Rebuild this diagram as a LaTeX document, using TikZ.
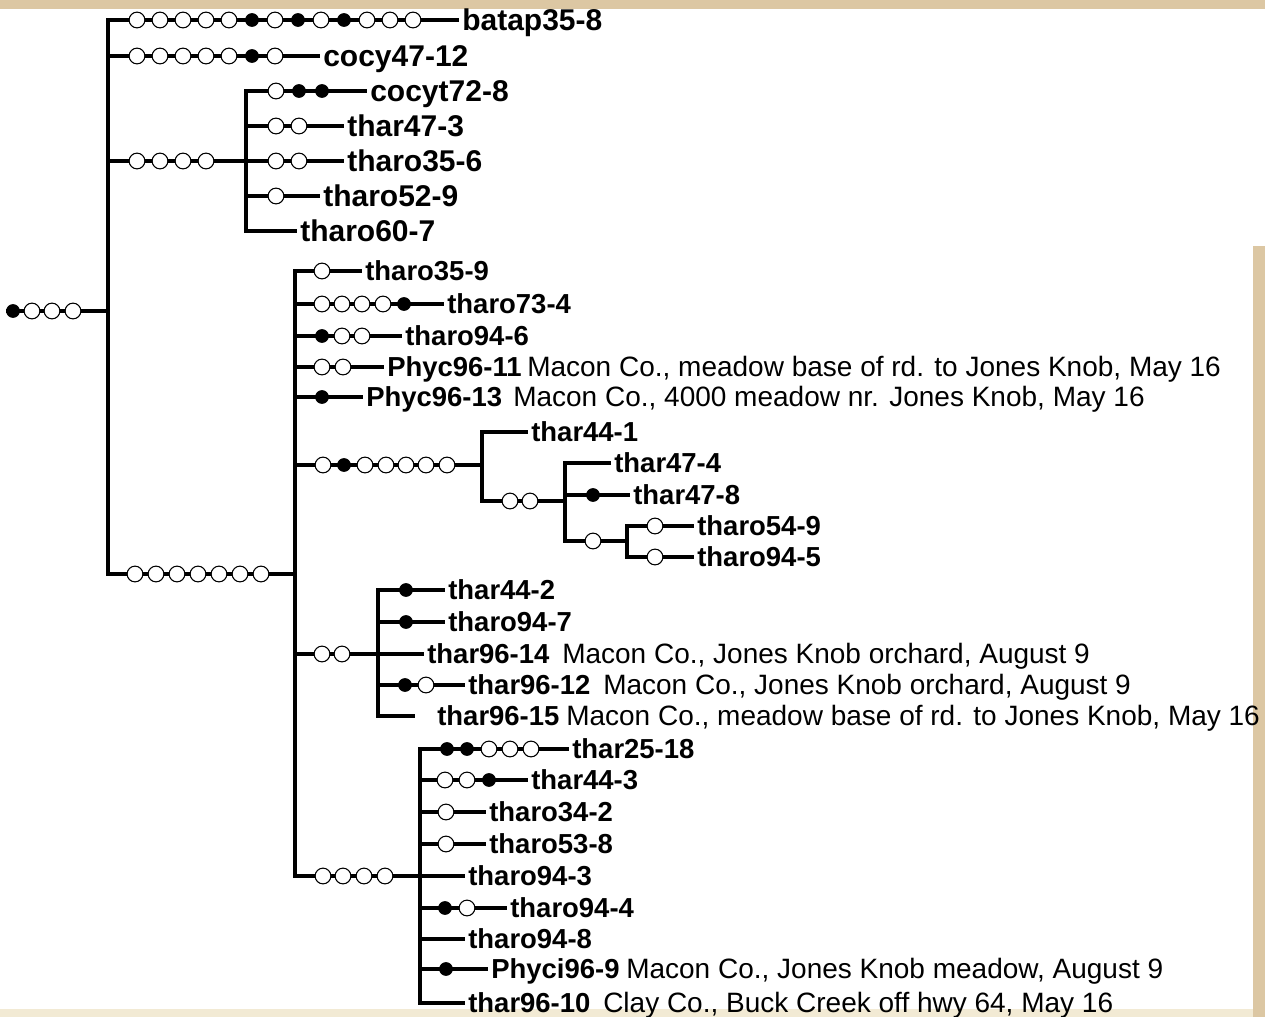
\documentclass[tikz,border=0pt]{standalone}
\usepackage{fontspec}
\setmainfont{Liberation Sans}
\definecolor{beige}{RGB}{220,199,163}
\definecolor{paleb}{RGB}{242,234,212}
\newcommand\mk[3]{\foreach \mx/\mt [count=\mi] in {#3} {\node[mk\mt] (#1m\mi) at (\mx,#2) {};}}
\begin{document}
\begin{tikzpicture}[x=0.75pt,y=-0.75pt,
  br/.style={line width=2.3pt, line cap=rect},
  mko/.style={circle, draw, fill=white, line width=0.8pt, inner sep=0pt, minimum size=11.8pt},
  mkf/.style={circle, fill=black, inner sep=0pt, minimum size=10.3pt},
  labT/.style={anchor=west, xshift=-1.125pt, inner ysep=0pt, inner xsep=3.4pt, text height=16.1pt, text depth=0pt, font=\fontsize{22.5}{24}\selectfont\bfseries},
  labL/.style={anchor=west, xshift=-1.125pt, inner ysep=0pt, inner xsep=3.4pt, text height=14.75pt, text depth=0pt, font=\fontsize{20.6}{22}\selectfont\bfseries},
  desc/.style={anchor=base west, inner sep=0pt, font=\fontsize{21}{23}\selectfont}]
\useasboundingbox (0,0) rectangle (1265,1017);
\fill[beige] (0,0) rectangle (1265,1017);
\fill[white] (0,9) rectangle (1253,1009);
\fill[white] (1253,9) rectangle (1265,246);
\fill[paleb] (0,1009) rectangle (1253,1017);

% ---------- coordinates ----------
\coordinate (R0) at (8,311);
\coordinate (R) at (108,311);
\coordinate (V1t) at (108,20);
\coordinate (V1b) at (108,574);
\coordinate (V2t) at (246,91);
\coordinate (V2b) at (246,231);
\coordinate (V2j) at (246,161);
\coordinate (V3t) at (295,271);
\coordinate (V3b) at (295,876);
\coordinate (V3j) at (295,574);
\coordinate (V4t) at (482,432);
\coordinate (V4b) at (482,501);
\coordinate (V4j) at (482,465);
\coordinate (V5t) at (565,463);
\coordinate (V5b) at (565,541);
\coordinate (V5j) at (565,501);
\coordinate (V6t) at (627,526);
\coordinate (V6b) at (627,557);
\coordinate (V6j) at (627,541);
\coordinate (V7t) at (378,590);
\coordinate (V7b) at (378,716);
\coordinate (V7j) at (378,654);
\coordinate (V8t) at (420,749);
\coordinate (V8b) at (420,1003);
\coordinate (V8j) at (420,876);
\coordinate (E15) at (413,716);

% ---------- labels: top group ----------
\node[labT] (Lbatap) at (459,20) {batap35-8};
\node[labT] (Lcocy) at (320,56) {cocy47-12};
\node[labT] (Lcocyt) at (367,91) {cocyt72-8};
\node[labT] (Lt473) at (344,126) {thar47-3};
\node[labT] (Lto356) at (344,161) {tharo35-6};
\node[labT] (Lto529) at (320,196) {tharo52-9};
\node[labT] (Lto607) at (297,231) {tharo60-7};

% ---------- labels: lower group ----------
\node[labL] (Lto359) at (362,271) {tharo35-9};
\node[labL] (Lto734) at (444,304) {tharo73-4};
\node[labL] (Lto946) at (402,336) {tharo94-6};
\node[labL] (Lp11) at (384,367) {Phyc96-11};
\node[labL] (Lp13) at (363,397) {Phyc96-13};
\node[labL] (Lt441) at (528,432) {thar44-1};
\node[labL] (Lt474) at (611,463) {thar47-4};
\node[labL] (Lt478) at (630,495) {thar47-8};
\node[labL] (Lto549) at (694,526) {tharo54-9};
\node[labL] (Lto945) at (694,557) {tharo94-5};
\node[labL] (Lt442) at (445,590) {thar44-2};
\node[labL] (Lto947) at (445,622) {tharo94-7};
\node[labL] (Lt9614) at (424,654) {thar96-14};
\node[labL] (Lt9612) at (465,685) {thar96-12};
\node[labL] (Lt9615) at (434,716) {thar96-15};
\node[labL] (Lt2518) at (569,749) {thar25-18};
\node[labL] (Lt443) at (528,780) {thar44-3};
\node[labL] (Lto342) at (486,812) {tharo34-2};
\node[labL] (Lto538) at (486,844) {tharo53-8};
\node[labL] (Lto943) at (465,876) {tharo94-3};
\node[labL] (Lto944) at (507,908) {tharo94-4};
\node[labL] (Lto948) at (465,939) {tharo94-8};
\node[labL] (Lpi9) at (488,969) {Phyci96-9};
\node[labL] (Lt9610) at (465,1003) {thar96-10};

% ---------- descriptions ----------
\node[desc] (Dp11) at (Lp11.base -| 527,0) {Macon Co., meadow base of rd. to Jones Knob, May 16};
\node[desc] (Dp13) at (Lp13.base -| 513,0) {Macon Co., 4000 meadow nr. Jones Knob, May 16};
\node[desc] (D9614) at (Lt9614.base -| 562,0) {Macon Co., Jones Knob orchard, August 9};
\node[desc] (D9612) at (Lt9612.base -| 603,0) {Macon Co., Jones Knob orchard, August 9};
\node[desc] (D9615) at (Lt9615.base -| 566,0) {Macon Co., meadow base of rd. to Jones Knob, May 16};
\node[desc] (Dpi9) at (Lpi9.base -| 626,0) {Macon Co., Jones Knob meadow, August 9};
\node[desc] (D9610) at (Lt9610.base -| 603,0) {Clay Co., Buck Creek off hwy 64, May 16};

% ---------- branches ----------
\draw[br] (R0) -- (R);
\draw[br] (V1t) -- (V1b);
\draw[br] (V1t) -- (Lbatap);
\draw[br] (V1t |- Lcocy) -- (Lcocy);
\draw[br] (V1t |- V2j) -- (V2j);
\draw[br] (V2t) -- (V2b);
\draw[br] (V2t) -- (Lcocyt);
\draw[br] (V2t |- Lt473) -- (Lt473);
\draw[br] (V2j) -- (Lto356);
\draw[br] (V2t |- Lto529) -- (Lto529);
\draw[br] (V2b) -- (Lto607);

\draw[br] (V1b) -- (V3j);
\draw[br] (V3t) -- (V3b);
\draw[br] (V3t) -- (Lto359);
\draw[br] (V3t |- Lto734) -- (Lto734);
\draw[br] (V3t |- Lto946) -- (Lto946);
\draw[br] (V3t |- Lp11) -- (Lp11);
\draw[br] (V3t |- Lp13) -- (Lp13);
\draw[br] (V3t |- V4j) -- (V4j);
\draw[br] (V4t) -- (V4b);
\draw[br] (V4t) -- (Lt441);
\draw[br] (V4b) -- (V5j);
\draw[br] (V5t) -- (V5b);
\draw[br] (V5t) -- (Lt474);
\draw[br] (V5t |- Lt478) -- (Lt478);
\draw[br] (V5b) -- (V6j);
\draw[br] (V6t) -- (V6b);
\draw[br] (V6t) -- (Lto549);
\draw[br] (V6b) -- (Lto945);

\draw[br] (V3t |- V7j) -- (V7j);
\draw[br] (V7t) -- (V7b);
\draw[br] (V7t) -- (Lt442);
\draw[br] (V7t |- Lto947) -- (Lto947);
\draw[br] (V7j) -- (Lt9614);
\draw[br] (V7t |- Lt9612) -- (Lt9612);
\draw[br] (V7b) -- (E15);

\draw[br] (V3b) -- (V8j);
\draw[br] (V8t) -- (V8b);
\draw[br] (V8t) -- (Lt2518);
\draw[br] (V8t |- Lt443) -- (Lt443);
\draw[br] (V8t |- Lto342) -- (Lto342);
\draw[br] (V8t |- Lto538) -- (Lto538);
\draw[br] (V8j) -- (Lto943);
\draw[br] (V8t |- Lto944) -- (Lto944);
\draw[br] (V8t |- Lto948) -- (Lto948);
\draw[br] (V8t |- Lpi9) -- (Lpi9);
\draw[br] (V8b) -- (Lt9610);

% ---------- character-state markers ----------
\mk{root}{311}{13/f,32/o,52/o,73/o}
\mk{a}{20}{137/o,160/o,183/o,206/o,229/o,252/f,275/o,298/f,321/o,344/f,367/o,390/o,413/o}
\mk{b}{56}{137/o,160/o,183/o,206/o,229/o,252/f,275/o}
\mk{c}{161}{137/o,160/o,183/o,206/o}
\mk{d}{91}{276/o,299/f,322/f}
\mk{e}{126}{276/o,299/o}
\mk{f}{161}{276/o,299/o}
\mk{g}{196}{276/o}
\mk{h}{574}{135/o,156/o,177/o,198/o,219/o,240/o,261/o}
\mk{i}{271}{322/o}
\mk{j}{304}{322/o,342/o,362/o,383/o,404/f}
\mk{k}{336}{322/f,342/o,362/o}
\mk{l}{367}{322/o,343/o}
\mk{m}{397}{322/f}
\mk{n}{465}{323/o,344/f,365/o,386/o,406/o,426/o,447/o}
\mk{p}{501}{510/o,530/o}
\mk{q}{495}{593/f}
\mk{r}{541}{593/o}
\mk{s}{526}{655/o}
\mk{t}{557}{655/o}
\mk{u}{654}{322/o,342/o}
\mk{v}{590}{406/f}
\mk{w}{622}{406/f}
\mk{x}{685}{405/f,426/o}
\mk{y}{876}{323/o,343/o,364/o,385/o}
\mk{z}{749}{447/f,467/f,489/o,510/o,531/o}
\mk{aa}{780}{445/o,467/o,489/f}
\mk{ab}{812}{446/o}
\mk{ac}{844}{446/o}
\mk{ad}{908}{445/f,467/o}
\mk{ae}{969}{446/f}
\end{tikzpicture}
\end{document}
